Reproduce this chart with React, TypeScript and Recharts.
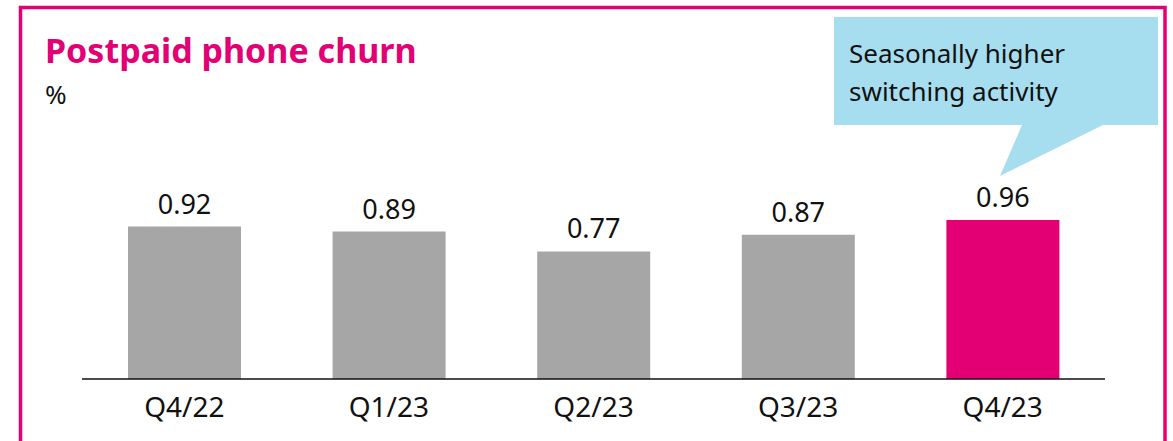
import React from "react";
import { BarChart, Bar, XAxis, YAxis, LabelList, Cell } from "recharts";

const categories = ["Q4/22", "Q1/23", "Q2/23", "Q3/23", "Q4/23"];
const churnValues = [0.92, 0.89, 0.77, 0.87, 0.96];
const barColors = ["#A6A6A6", "#A6A6A6", "#A6A6A6", "#A6A6A6", "#E20074"];

const data = categories.map((q, i) => ({ quarter: q, churn: churnValues[i] }));

const FONT = "'Noto Sans', sans-serif";
const MAGENTA = "#E20074";

const Tick = (props: any) => {
  const { x, y, payload } = props;
  return (
    <text x={x} y={y} dy={38} textAnchor="middle" fontSize={28} fontFamily={FONT} fill="#111">
      {payload.value}
    </text>
  );
};

export default function App() {
  return (
    <div style={{ position: "absolute", left: 0, top: 0, width: 1173, height: 441, background: "#fff", overflow: "hidden" }}>
      <BarChart
        width={1173}
        height={441}
        data={data}
        margin={{ top: 147, right: 68, bottom: 0, left: 82 }}
        barCategoryGap={0}
      >
        <YAxis hide domain={[0, 1.4]} />
        <XAxis
          dataKey="quarter"
          axisLine={{ stroke: "#111", strokeWidth: 1.5 }}
          tickLine={false}
          tickSize={0}
          tickMargin={0}
          tick={<Tick />}
          interval={0}
          height={62}
        />
        <Bar dataKey="churn" barSize={113} isAnimationActive={false}>
          {data.map((d, i) => (
            <Cell key={d.quarter} fill={barColors[i]} />
          ))}
          <LabelList
            dataKey="churn"
            position="top"
            offset={13}
            fontSize={27}
            fontFamily={FONT}
            fill="#111"
            formatter={(v: any) => Number(v).toFixed(2)}
          />
        </Bar>
      </BarChart>
      <svg width={1173} height={441} style={{ position: "absolute", left: 0, top: 0, pointerEvents: "none" }}>
        <path d="M20.5 460 L20.5 7.5 L1165 7.5 L1165 460" fill="none" stroke={MAGENTA} strokeWidth={3.5} />
        <text x={45} y={63} fontSize={34} fontWeight={700} fontFamily={FONT} fill={MAGENTA}>
          Postpaid phone churn
        </text>
        <text x={45} y={104} fontSize={26} fontFamily={FONT} fill="#111">%</text>
        <path d="M834 17 L1158 17 L1158 125 L1103 125 L1000 176 L1022 125 L834 125 Z" fill="#A6DDEF" />
        <text x={849} y={63} fontSize={26} fontFamily={FONT} fill="#111">Seasonally higher</text>
        <text x={849} y={101} fontSize={26} fontFamily={FONT} fill="#111">switching activity</text>
      </svg>
    </div>
  );
}
